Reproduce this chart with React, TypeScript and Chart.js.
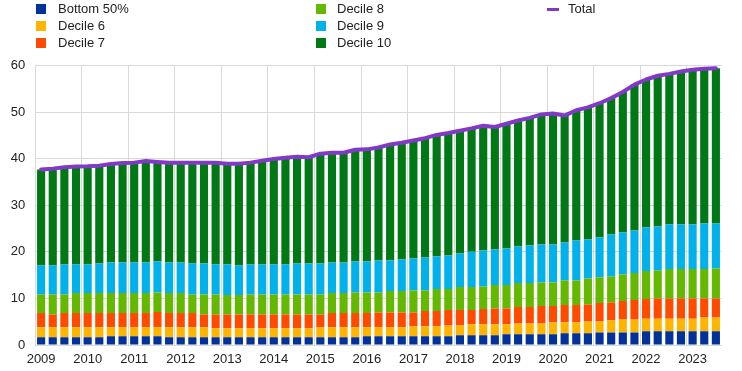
import React, { useEffect, useRef } from "react";
import { Chart, registerables } from "chart.js";

Chart.register(...registerables);

const quarters = [
  "2009 Q1","2009 Q2","2009 Q3","2009 Q4",
  "2010 Q1","2010 Q2","2010 Q3","2010 Q4",
  "2011 Q1","2011 Q2","2011 Q3","2011 Q4",
  "2012 Q1","2012 Q2","2012 Q3","2012 Q4",
  "2013 Q1","2013 Q2","2013 Q3","2013 Q4",
  "2014 Q1","2014 Q2","2014 Q3","2014 Q4",
  "2015 Q1","2015 Q2","2015 Q3","2015 Q4",
  "2016 Q1","2016 Q2","2016 Q3","2016 Q4",
  "2017 Q1","2017 Q2","2017 Q3","2017 Q4",
  "2018 Q1","2018 Q2","2018 Q3","2018 Q4",
  "2019 Q1","2019 Q2","2019 Q3","2019 Q4",
  "2020 Q1","2020 Q2","2020 Q3","2020 Q4",
  "2021 Q1","2021 Q2","2021 Q3","2021 Q4",
  "2022 Q1","2022 Q2","2022 Q3","2022 Q4",
  "2023 Q1","2023 Q2","2023 Q3",
];

const bottom50 = [
  1.64,1.64,1.64,1.64,1.64,1.64,1.86,1.86,1.86,1.86,
  1.86,1.64,1.64,1.64,1.64,1.64,1.64,1.64,1.64,1.64,
  1.64,1.64,1.64,1.64,1.64,1.64,1.64,1.64,1.86,1.86,
  1.86,1.86,1.86,1.86,1.86,1.86,2.07,2.07,2.07,2.07,
  2.29,2.29,2.29,2.29,2.29,2.5,2.5,2.5,2.71,2.71,
  2.71,2.71,2.93,2.93,2.93,2.93,2.93,2.93,2.93,
];

const decile6 = [
  2.15,2.15,2.15,2.15,2.15,2.15,1.93,1.93,1.93,1.93,
  1.93,2.15,2.15,2.15,2.15,1.93,1.93,1.93,1.93,1.93,
  1.93,1.93,1.93,1.93,2.15,2.15,2.15,2.15,1.93,1.93,
  1.93,1.93,2.14,2.14,2.14,2.34,2.13,2.36,2.36,2.36,
  2.14,2.35,2.35,2.35,2.57,2.36,2.36,2.57,2.36,2.58,
  2.79,2.79,2.71,2.71,2.71,2.71,2.71,3.0,3.0,
];

const decile7 = [
  3.07,2.78,3.07,3.07,3.07,3.07,3.07,3.07,3.07,3.07,
  3.28,3.07,3.07,3.07,2.78,3.0,3.0,3.0,3.0,3.0,
  3.0,3.0,3.0,3.0,2.78,3.07,3.07,3.07,3.07,3.21,
  3.21,3.21,3.0,3.29,3.29,3.3,3.3,3.07,3.28,3.43,
  3.43,3.5,3.5,3.72,3.5,3.71,3.71,3.64,3.93,3.85,
  3.93,4.14,4.22,4.36,4.36,4.36,4.36,4.07,4.07,
];

const decile8 = [
  4.0,4.29,4.0,4.28,4.28,4.28,4.28,4.28,4.28,4.28,
  4.22,4.28,4.28,4.0,4.29,4.29,4.14,4.14,4.29,4.29,
  4.29,4.29,4.29,4.29,4.29,4.28,4.28,4.43,4.43,4.29,
  4.57,4.57,4.71,4.42,4.71,4.5,4.93,4.93,4.86,5.0,
  5.0,5.15,5.15,5.07,5.07,5.29,5.29,5.58,5.57,5.57,
  5.71,5.79,6.0,6.0,6.29,6.29,6.29,6.29,6.43,
];

const decile9 = [
  6.21,6.21,6.43,6.15,6.15,6.36,6.57,6.57,6.57,6.57,
  6.64,6.57,6.57,6.64,6.64,6.43,6.58,6.36,6.43,6.43,
  6.43,6.43,6.64,6.64,6.64,6.57,6.57,6.64,6.64,6.85,
  6.57,6.79,6.86,7.08,7.0,7.2,7.21,7.57,7.72,7.64,
  7.85,7.85,8.07,8.14,8.14,8.14,8.57,8.35,8.5,9.0,
  9.0,9.14,9.34,9.43,9.57,9.57,9.57,9.78,9.64,
];

const decile10 = [
  20.63,20.79,20.86,21.01,21.07,21.0,21.15,21.36,21.44,21.79,
  21.37,21.39,21.39,21.6,21.6,21.81,21.61,21.83,21.86,22.28,
  22.64,22.91,22.93,22.8,23.57,23.57,23.57,23.99,24.07,24.26,
  24.92,25.04,25.33,25.61,26.1,26.3,26.36,26.5,26.76,26.3,
  26.79,27.06,27.39,27.93,28.13,27.25,27.97,28.36,28.83,29.29,
  30.16,31.33,31.8,32.37,32.34,32.84,33.21,33.23,33.33,
];

const total = [
  37.7,37.86,38.15,38.3,38.36,38.5,38.86,39.07,39.15,39.5,
  39.3,39.1,39.1,39.1,39.1,39.1,38.9,38.9,39.15,39.57,
  39.93,40.2,40.43,40.3,41.07,41.28,41.28,41.92,42.0,42.4,
  43.06,43.4,43.9,44.4,45.1,45.5,46.0,46.5,47.05,46.8,
  47.5,48.2,48.75,49.5,49.7,49.25,50.4,51.0,51.9,53.0,
  54.3,55.9,57.0,57.8,58.2,58.7,59.07,59.3,59.4,
];

const seriesNames = ["Bottom 50%", "Decile 6", "Decile 7", "Decile 8", "Decile 9", "Decile 10"];
const seriesColors = ["#003299", "#FFB400", "#FF4B00", "#65B800", "#00B1EA", "#007816"];
const totalName = "Total";
const totalColor = "#8139C6";

const yTicks = [0, 10, 20, 30, 40, 50, 60];

const FONT = "'Liberation Sans', Arial, sans-serif";
const GRID = "#d9d9d9";
const TEXT = "#222222";

export default function App() {
  const canvasRef = useRef<HTMLCanvasElement | null>(null);

  useEffect(() => {
    document.body.style.margin = "0";
    const canvas = canvasRef.current;
    if (!canvas) return;
    const values = [bottom50, decile6, decile7, decile8, decile9, decile10];
    const chart = new Chart(canvas, {
      type: "bar",
      data: {
        labels: quarters,
        datasets: [
          {
            type: "line",
            label: totalName,
            data: total,
            borderColor: totalColor,
            backgroundColor: totalColor,
            borderWidth: 4,
            pointRadius: 0,
            tension: 0,
            borderCapStyle: "round",
            borderJoinStyle: "round",
            stack: "total",
            order: 0,
          } as any,
          ...values.map((d, i) => ({
            type: "bar" as const,
            label: seriesNames[i],
            data: d,
            backgroundColor: seriesColors[i],
            borderWidth: 0,
            stack: "deciles",
            order: 1,
            barPercentage: 0.7,
            categoryPercentage: 1.0,
          })),
        ],
      },
      options: {
        animation: false,
        responsive: false,
        maintainAspectRatio: false,
        layout: { padding: { top: 65.5, right: 20.3, left: 0, bottom: 0 } },
        plugins: {
          legend: { display: false },
          tooltip: { enabled: false },
        },
        scales: {
          x: {
            type: "category",
            stacked: true,
            offset: true,
            border: { display: false },
            grid: {
              offset: true,
              drawTicks: false,
              lineWidth: 1,
              color: (ctx: any) => (ctx.index % 4 === 0 ? GRID : "rgba(0,0,0,0)"),
            },
            ticks: {
              autoSkip: false,
              maxRotation: 0,
              minRotation: 0,
              padding: 7,
              color: TEXT,
              font: { family: FONT, size: 13 },
              callback: function (this: any, value: any) {
                const lab: string = this.getLabelForValue(value);
                return lab.endsWith("Q1") ? lab.slice(0, 4) : "";
              },
            },
            afterFit: (scale: any) => {
              scale.height = 26;
            },
          },
          y: {
            stacked: true,
            min: yTicks[0],
            max: yTicks[yTicks.length - 1],
            border: { display: false },
            grid: { color: GRID, lineWidth: 1, drawTicks: false },
            ticks: {
              stepSize: 10,
              padding: 10,
              color: TEXT,
              font: { family: FONT, size: 13 },
            },
            afterFit: (scale: any) => {
              scale.width = 35.3;
            },
          },
        },
      },
    });
    return () => chart.destroy();
  }, []);

  const legendCols: { name: string; color: string; line?: boolean }[][] = [
    [0, 1, 2].map((i) => ({ name: seriesNames[i], color: seriesColors[i] })),
    [3, 4, 5].map((i) => ({ name: seriesNames[i], color: seriesColors[i] })),
    [{ name: totalName, color: totalColor, line: true }],
  ];
  const colX = [36, 316, 547];
  const textX = [58, 337, 568];
  const rowY = [9, 25.7, 42.5];

  return (
    <div style={{ position: "relative", width: 742, height: 371, fontFamily: FONT }}>
      <canvas ref={canvasRef} width={742} height={371} style={{ position: "absolute", left: 0, top: 0 }} />
      {legendCols.map((col, ci) =>
        col.map((item, ri) => (
          <React.Fragment key={`${ci}-${ri}`}>
            <div
              style={{
                position: "absolute",
                left: colX[ci],
                top: item.line ? rowY[ri] - 1.5 : rowY[ri] - 5,
                width: item.line ? 12 : 10,
                height: item.line ? 3 : 10,
                background: item.color,
              }}
            />
            <div
              style={{
                position: "absolute",
                left: textX[ci],
                top: rowY[ri] - 8,
                height: 16,
                lineHeight: "16px",
                fontSize: 13,
                color: TEXT,
                whiteSpace: "nowrap",
              }}
            >
              {item.name}
            </div>
          </React.Fragment>
        ))
      )}
    </div>
  );
}
